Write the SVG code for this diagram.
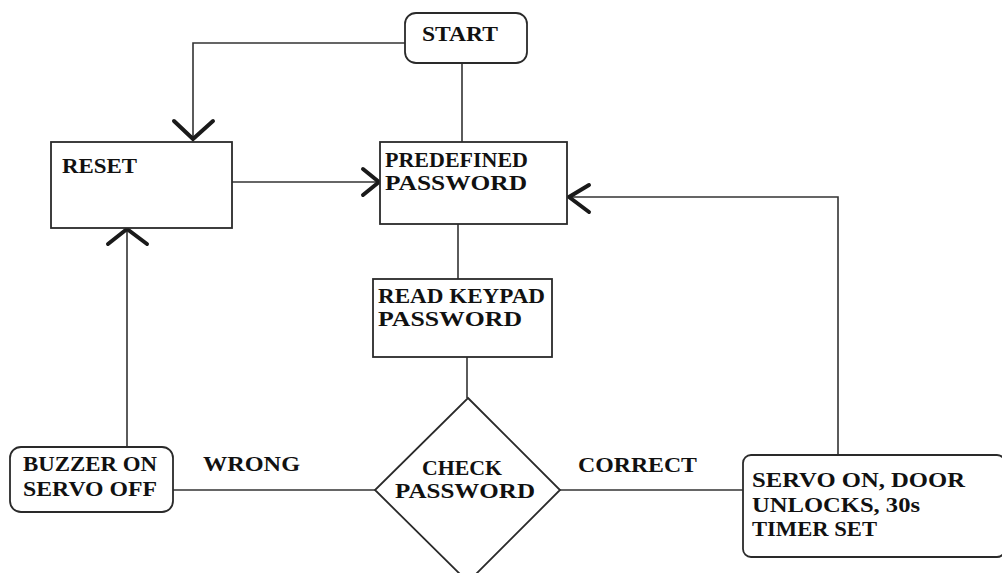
<svg xmlns="http://www.w3.org/2000/svg" width="1002" height="573" viewBox="0 0 1002 573">
<style>
.box{fill:#fff;stroke:#2a2a2a;stroke-width:1.8}
.ln{fill:none;stroke:#333;stroke-width:1.6}
.ah{fill:none;stroke:#1a1a1a;stroke-width:4;stroke-linecap:round;stroke-linejoin:miter}
.t{font-family:"Liberation Serif","Times New Roman",serif;font-weight:bold;font-size:20px;fill:#111}
</style>
<rect width="1002" height="573" fill="#fff"/>
<g id="connectors">
<polyline class="ln" points="405,43 193,43 193,140"/>
<path class="ah" d="M174,121 L193,139 L213,121"/>
<line class="ln" x1="462" y1="63" x2="462" y2="142"/>
<line class="ln" x1="232" y1="182" x2="380" y2="182"/>
<path class="ah" d="M363,169 L379,182 L363,195"/>
<line class="ln" x1="458" y1="224" x2="458" y2="279"/>
<line class="ln" x1="467" y1="357" x2="467" y2="398"/>
<line class="ln" x1="173" y1="490" x2="375" y2="490"/>
<line class="ln" x1="560" y1="490" x2="743" y2="490"/>
<polyline class="ln" points="127,447 127,229"/>
<path class="ah" d="M108,244 L127,229 L147,244"/>
<polyline class="ln" points="838,455 838,197 568,197"/>
<path class="ah" d="M589,185 L569,197 L589,212"/>
<text class="t" x="203" y="471" textLength="97" lengthAdjust="spacingAndGlyphs">WRONG</text>
<text class="t" x="578" y="472" textLength="119" lengthAdjust="spacingAndGlyphs">CORRECT</text>
</g>
<g id="start">
<rect class="box" x="405" y="13" width="122" height="50" rx="11"/>
<text class="t" x="422" y="41" textLength="76" lengthAdjust="spacingAndGlyphs">START</text>
</g>
<g id="reset">
<rect class="box" x="51" y="142" width="181" height="86"/>
<text class="t" x="62" y="173" textLength="75" lengthAdjust="spacingAndGlyphs">RESET</text>
</g>
<g id="predefined">
<rect class="box" x="380" y="142" width="187" height="82"/>
<text class="t" x="385" y="167" textLength="143" lengthAdjust="spacingAndGlyphs">PREDEFINED</text>
<text class="t" x="385" y="190" textLength="142" lengthAdjust="spacingAndGlyphs">PASSWORD</text>
</g>
<g id="read-keypad">
<rect class="box" x="373" y="279" width="179" height="78"/>
<text class="t" x="378" y="303" textLength="167" lengthAdjust="spacingAndGlyphs">READ KEYPAD</text>
<text class="t" x="378" y="326" textLength="144" lengthAdjust="spacingAndGlyphs">PASSWORD</text>
</g>
<g id="check-password">
<polygon class="box" points="468,398 560,490 468,582 375,490"/>
<text class="t" x="422" y="475" textLength="80" lengthAdjust="spacingAndGlyphs">CHECK</text>
<text class="t" x="395" y="498" textLength="140" lengthAdjust="spacingAndGlyphs">PASSWORD</text>
</g>
<g id="buzzer">
<rect class="box" x="10" y="447" width="163" height="65" rx="11"/>
<text class="t" x="23" y="471" textLength="134" lengthAdjust="spacingAndGlyphs">BUZZER ON</text>
<text class="t" x="23" y="496" textLength="134" lengthAdjust="spacingAndGlyphs">SERVO OFF</text>
</g>
<g id="servo-on">
<rect class="box" x="743" y="455" width="262" height="102" rx="8"/>
<text class="t" x="752" y="487" textLength="213" lengthAdjust="spacingAndGlyphs">SERVO ON, DOOR</text>
<text class="t" x="752" y="512" textLength="168" lengthAdjust="spacingAndGlyphs">UNLOCKS, 30s</text>
<text class="t" x="752" y="536" textLength="125" lengthAdjust="spacingAndGlyphs">TIMER SET</text>
</g>
</svg>
